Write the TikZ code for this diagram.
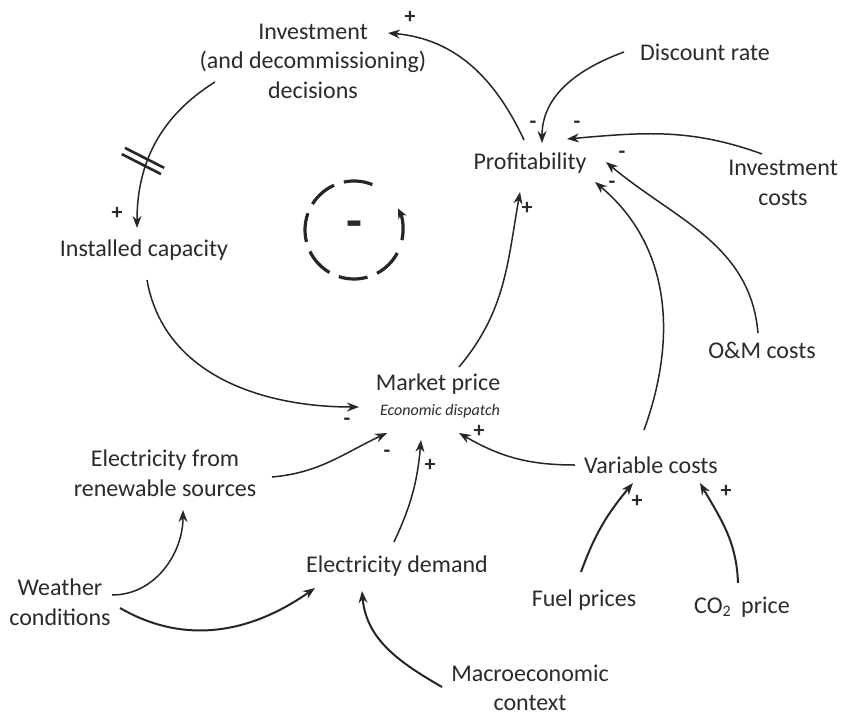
\documentclass[tikz,border=0pt]{standalone}
\usepackage{fontspec}
\setmainfont{Carlito}
\usetikzlibrary{arrows.meta}
\definecolor{txt}{HTML}{2B2B2B}
\definecolor{ln}{HTML}{262626}
\begin{document}
\begin{tikzpicture}[x=0.5pt,y=0.5pt,
  lbl/.style={inner sep=0pt, text=txt, font=\fontsize{12}{14.8}\selectfont, align=center},
  sgn/.style={inner sep=0pt, text=txt, font=\fontsize{11}{11}\selectfont\bfseries},
  arr/.style={draw=ln, line width=0.75pt, -{Stealth[length=6pt,width=4.5pt]}},
  arrb/.style={arr, line width=1pt},
  loopdash/.style={draw=ln, line width=1.6pt},
]
\fill[white] (0,0) rectangle (844,714);
\useasboundingbox (0,0) rectangle (844,714);

% nodes
\node[lbl] (inv)  at (313,653) {Investment\\(and decommissioning)\\decisions};
\node[lbl] (prof) at (530,551) {Profitability};
\node[lbl] (disc) at (705,662) {Discount rate};
\node[lbl] (invc) at (783,531) {Investment\\costs};
\node[lbl] (om)   at (762,364) {O\&M costs};
\node[lbl] (inst) at (144,464) {Installed capacity};
\node[lbl] (mp)   at (438,330) {Market price};
\node[lbl, font=\fontsize{8}{9}\selectfont\itshape] (ed) at (440,303) {Economic dispatch};
\node[lbl] (ren)  at (165,241) {Electricity from\\renewable sources};
\node[lbl] (dem)  at (397,148) {Electricity demand};
\node[lbl] (wea)  at (60,112)  {Weather\\conditions};
\node[lbl] (mac)  at (530,26)  {Macroeconomic\\context};
\node[lbl] (var)  at (651,249) {Variable costs};
\node[lbl] (fuel) at (584,114) {Fuel prices};
\node[lbl] (co2)  at (742,107) {CO\textsubscript{2}\, price};

% connectors
\draw[arr] ([shift={(-6,23)}]prof.center) to[out=115,in=-5] ([shift={(75,28)}]inv.center);
\draw[arr] ([shift={(-81,0)}]disc.center) to[out=200,in=90] ([shift={(12,20)}]prof.center);
\draw[arr] ([shift={(-21,29)}]invc.center) to[out=160,in=5] ([shift={(37,24)}]prof.center);
\draw[arr] ([shift={(-4,17)}]om.center) to[out=95,in=-40] ([shift={(76,1)}]prof.center);
\draw[arr] ([shift={(-7,35)}]var.center) to[out=70,in=-40] ([shift={(65,-19)}]prof.center);
\draw[arr] ([shift={(21,17)}]mp.center) to[out=50,in=-100] ([shift={(-10,-29)}]prof.center);
\draw[arr] ([shift={(-98,-21)}]inv.center) to[out=212,in=90] ([shift={(-7,22)}]inst.center);
\draw[arr] ([shift={(3,-30)}]inst.center) to[out=-80,in=180] ([shift={(-79,-23)}]mp.center);
\draw[arr] ([shift={(107,-4)}]ren.center) to[out=5,in=205] ([shift={(-51,-49)}]mp.center);
\draw[arr] ([shift={(-3,24)}]dem.center) to[out=65,in=-95] ([shift={(-17,-56)}]mp.center);
\draw[arr] ([shift={(-76,0)}]var.center) to[out=180,in=-30] ([shift={(21,-49)}]mp.center);
\draw[arr] ([shift={(52,7)}]wea.center) to[out=0,in=-90] ([shift={(18,-37)}]ren.center);
\draw[arrb] ([shift={(60,-6)}]wea.center) to[out=-30,in=-145] ([shift={(-82,-22)}]dem.center);
\draw[arrb] ([shift={(-88,1)}]mac.center) to[out=150,in=-85] ([shift={(-35,-25)}]dem.center);
\draw[arrb] ([shift={(-3,28)}]fuel.center) to[out=70,in=-130] ([shift={(-18,-18)}]var.center);
\draw[arrb] ([shift={(-4,24)}]co2.center) to[out=92,in=-60] ([shift={(49,-18)}]var.center);

% delay mark
\draw[draw=ln, line width=1.3pt, shift={(143,553)}, rotate=-27]
  (-22,3.5) -- (22,3.5) (-22,-3.5) -- (22,-3.5);

% polarity signs
\node[sgn] (s1)  at (410,697) {+};
\node[sgn] (s2)  at (533,589) {-};
\node[sgn] (s3)  at (577,589) {-};
\node[sgn] (s4)  at (622,559) {-};
\node[sgn] (s5)  at (612,529) {-};
\node[sgn] (s6)  at (527,506) {+};
\node[sgn] (s7)  at (117,501) {+};
\node[sgn] (s8)  at (347,292) {-};
\node[sgn] (s9)  at (387,260) {-};
\node[sgn] (s10) at (430,249) {+};
\node[sgn] (s11) at (479,283) {+};
\node[sgn] (s12) at (637,213) {+};
\node[sgn] (s13) at (726,223) {+};

% loop symbol
\coordinate (lc) at (354,484);
\foreach \a in {68,114,160,206,252,298}
  \draw[loopdash] ([shift={(\a:49)}]lc) arc[start angle=\a, end angle=\a+34, radius=49];
\draw[loopdash, -{Stealth[length=5pt,width=4.5pt]}] ([shift={(-12:49)}]lc) arc[start angle=-12, end angle=26, radius=49];
\node[inner sep=0pt, text=txt, font=\fontsize{26}{26}\selectfont\bfseries] (lsign) at (lc) {-};
\end{tikzpicture}
\end{document}
